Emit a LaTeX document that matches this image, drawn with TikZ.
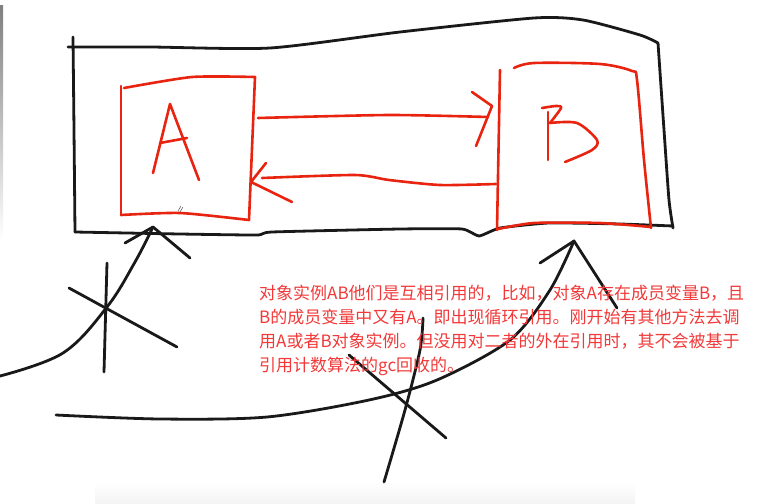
\documentclass[tikz,border=0pt]{standalone}
\usepackage{fontspec}
\newfontfamily\cjk{Noto Sans CJK SC}
\definecolor{penred}{RGB}{232,36,16}
\definecolor{txtred}{RGB}{242,56,56}
\definecolor{shade}{RGB}{238,238,238}
\definecolor{shadeb}{RGB}{244,244,244}
\begin{document}
\begin{tikzpicture}[x=1pt,y=-1pt,
  blackpen/.style={line width=2.8pt,line cap=round,line join=round,draw=black!90},
  redpen/.style={line width=2.6pt,line cap=round,line join=round,draw=penred}]
\useasboundingbox (0,0) rectangle (762,503);
% faint window artifacts
\fill[shade] (0,6) rectangle (3,240);
\shade[top color=white,bottom color=shadeb] (95,482) rectangle (635,503);
% outer frame
\draw[blackpen] plot[smooth,tension=0.4] coordinates {(68,47) (150,47) (270,48) (400,32) (534,18) (583,20) (640,35) (658,43)};
\draw[blackpen] plot[smooth,tension=0.4] coordinates {(73,37) (74,130) (75,232)};
\draw[blackpen] plot[smooth,tension=0.4] coordinates {(658,43) (664,130) (669,200) (673,228)};
\draw[blackpen] plot[smooth,tension=0.3] coordinates {(75,232) (180,234) (257,235) (272,232) (400,229) (462,229) (479,236) (500,228) (549,223) (620,224) (673,226)};
% box A
\draw[redpen] plot[smooth,tension=0.4] coordinates {(124,88) (192,77) (255,77)};
\draw[redpen] (255,77) -- (249,220);
\draw[redpen] (121,86) -- (121,215);
\draw[redpen] plot[smooth,tension=0.4] coordinates {(121,215) (180,213) (249,220)};
% letter A
\draw[redpen] (153,173) -- (170,104) -- (199,180);
\draw[redpen] (160,143) -- (187,138);
% box B
\draw[redpen] (500,70) -- (497,230);
\draw[redpen] plot[smooth,tension=0.5] coordinates {(514,68) (534,63) (600,64) (632,71) (637,80) (644,160) (651,228)};
\draw[redpen] plot[smooth,tension=0.4] coordinates {(498,229) (534,223) (600,223) (651,227)};
% letter B
\draw[redpen] (548,112) -- (548,160);
\draw[redpen] plot[smooth,tension=0.5] coordinates {(542,108) (556,106) (561,108) (550,123)};
\draw[redpen] plot[smooth,tension=0.5] coordinates {(550,123) (577,123) (597,140) (592,150) (565,162)};
% arrow A -> B
\draw[redpen] plot[smooth,tension=0.4] coordinates {(258,118) (389,115) (488,117)};
\draw[redpen] (472,92) -- (492,106) -- (476,146);
% arrow B -> A
\draw[redpen] plot[smooth,tension=0.4] coordinates {(496,184) (440,185) (389,180) (355,175) (262,178)};
\draw[redpen] (266,163) -- (251,182) -- (292,202);
% cursor mark
\draw[black!70,line width=0.5pt] (178,211) -- (181,206) (180,212) -- (183,207);
% left curved arrow
\draw[blackpen] plot[smooth,tension=0.6] coordinates {(0,376) (63,353) (107,307) (135,262) (153,227)};
\draw[blackpen] (125,243) -- (153,227) -- (190,258);
% left cross
\draw[blackpen] (107,263) -- (104,372);
\draw[blackpen] (69,288) -- (177,347);
% bottom curved arrow
\draw[blackpen] plot[smooth,tension=0.5] coordinates {(56,415) (160,419) (267,417) (369,400) (437,380) (510,340) (550,290) (574,241)};
\draw[blackpen] (540,263) -- (574,241) -- (617,308);
% bottom cross
\draw[blackpen] (349,355) -- (446,438);
\draw[blackpen] plot[smooth,tension=0.5] coordinates {(423,318) (420,350) (405,410) (384,482)};
% text
\node[anchor=north west,align=left,text=txtred,font=\cjk\fontsize{17}{24}\selectfont,inner sep=0pt] (txt) at (259,285)
{对象实例AB他们是互相引用的，比如，对象A存在成员变量B，且\\
B的成员变量中又有A。即出现循环引用。刚开始有其他方法去调\\
用A或者B对象实例。但没用对二者的外在引用时，其不会被基于\\
引用计数算法的gc回收的。};
\end{tikzpicture}
\end{document}
